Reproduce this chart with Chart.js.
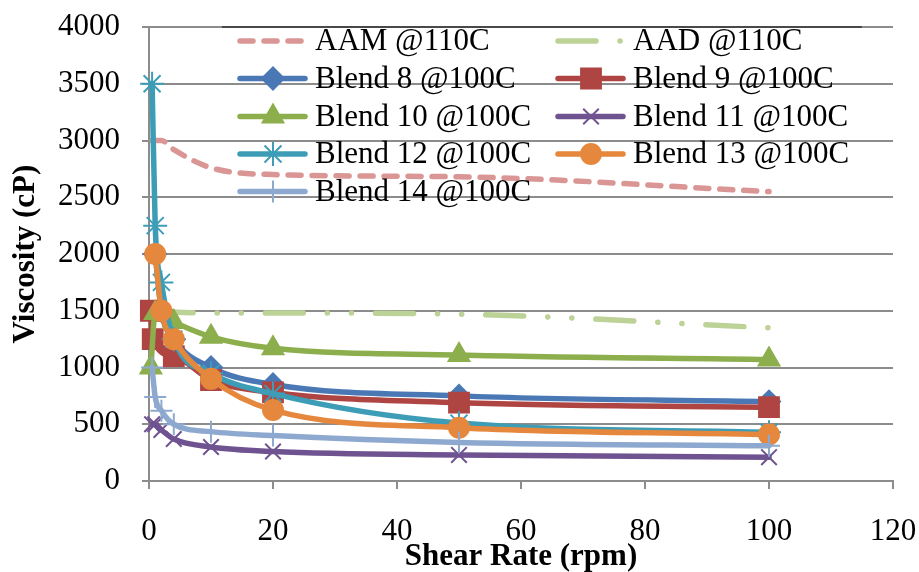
<!DOCTYPE html>
<html><head><meta charset="utf-8">
<script src="https://cdn.jsdelivr.net/npm/chart.js@4/dist/chart.umd.min.js"></script>
<style>html,body{margin:0;padding:0;background:#fff;}#wrap{width:919px;height:572px;}</style>
</head><body><div id="wrap"><canvas id="c" width="919" height="572"></canvas></div>
<script>
// ---- data ----
const seriesNames = ["AAM @110C","AAD @110C","Blend 8 @100C","Blend 9 @100C","Blend 10 @100C","Blend 11 @100C","Blend 12 @100C","Blend 13 @100C","Blend 14 @100C"];
const aamRate = [0.5, 2, 4, 10, 20, 50, 100];
const aamVisc = [3000, 3000, 2920, 2760, 2700, 2680, 2550];
const aadRate = [1, 2, 4, 10, 20, 50, 100];
const aadVisc = [1500, 1500, 1490, 1480, 1480, 1470, 1350];
const b8Rate = [1, 2, 4, 10, 20, 50, 100];
const b8Visc = [2000, 1500, 1250, 1000, 850, 750, 700];
const b9Rate = [0.3, 0.6, 4, 10, 20, 50, 100];
const b9Visc = [1500, 1250, 1100, 890, 780, 690, 650];
const b10Rate = [0.3, 1, 4, 10, 20, 50, 100];
const b10Visc = [1000, 1480, 1400, 1270, 1170, 1110, 1070];
const b11Rate = [0.5, 1, 2, 4, 10, 20, 50, 100];
const b11Visc = [500, 500, 450, 370, 300, 260, 230, 210];
const b12Rate = [0.5, 1, 2, 4, 10, 20, 50, 100];
const b12Visc = [3500, 2250, 1750, 1250, 950, 770, 510, 430];
const b13Rate = [1, 2, 4, 10, 20, 50, 100];
const b13Visc = [2000, 1500, 1250, 900, 625, 470, 410];
const b14Rate = [0.5, 1, 2, 4, 10, 20, 50, 100];
const b14Visc = [1000, 740, 620, 500, 435, 400, 340, 310];
const xTicks = [0, 20, 40, 60, 80, 100, 120];
const yTicks = [0, 500, 1000, 1500, 2000, 2500, 3000, 3500, 4000];

const pairs = (xs, ys) => xs.map((x, i) => ({x: x, y: ys[i]}));
const FONT = "'Liberation Serif','Times New Roman',serif";
const GRID = '#8c8c8c';

const styles = [
  {c:'#D99694', pt:false, dash:[13,11], cap:'round'},
  {c:'#BCD297', pt:false, dash:[38,24,0.1,24,0.1,24], cap:'round'},
  {c:'#4A78B5', pt:'rectRot', r:11},
  {c:'#AE4542', pt:'rect', r:14},
  {c:'#8DAE4D', pt:'triangle', r:12},
  {c:'#6F5391', pt:'crossRot', r:11},
  {c:'#3E9DB6', pt:'star', r:12},
  {c:'#E5883D', pt:'circle', r:10},
  {c:'#8EA9D0', pt:'cross', r:11}
];
const dataSets = [
  pairs(aamRate, aamVisc), pairs(aadRate, aadVisc), pairs(b8Rate, b8Visc),
  pairs(b9Rate, b9Visc), pairs(b10Rate, b10Visc), pairs(b11Rate, b11Visc),
  pairs(b12Rate, b12Visc), pairs(b13Rate, b13Visc), pairs(b14Rate, b14Visc)
];

const datasets = dataSets.map((d, i) => {
  const s = styles[i];
  return {
    label: seriesNames[i],
    data: d,
    borderColor: s.c,
    backgroundColor: s.c,
    borderWidth: 5.5,
    borderDash: s.dash || [],
    borderCapStyle: s.cap || 'round',
    borderJoinStyle: 'round',
    pointStyle: s.pt || 'circle',
    pointRadius: s.pt ? s.r : 0,
    pointHoverRadius: s.pt ? s.r : 0,
    pointBorderWidth: 2,
    pointBorderColor: s.c,
    pointBackgroundColor: s.c,
    cubicInterpolationMode: 'monotone',
    fill: false,
    clip: false,
    order: 20 - i
  };
});

const legendPlugin = {
  id: 'customLegend',
  afterDatasetsDraw(chart) {
    const ctx = chart.ctx;
    ctx.save();
    ctx.strokeStyle = '#333';
    ctx.lineWidth = 1.5;
    ctx.beginPath(); ctx.moveTo(222, 27); ctx.lineTo(862, 27); ctx.stroke();
    const colX = [237, 555];
    const rowY = [41, 78.5, 116.5, 154, 191.5];
    ctx.font = '31px ' + FONT;
    ctx.textBaseline = 'middle';
    ctx.fillStyle = '#000';
    chart.data.datasets.forEach((ds, i) => {
      const x0 = colX[i % 2], y = rowY[Math.floor(i / 2)];
      ctx.save();
      ctx.strokeStyle = ds.borderColor;
      ctx.lineWidth = ds.borderWidth;
      ctx.lineCap = ds.borderCapStyle;
      ctx.setLineDash(ds.borderDash);
      ctx.beginPath(); ctx.moveTo(x0 + 3, y); ctx.lineTo(x0 + 68, y); ctx.stroke();
      ctx.restore();
      if (ds.pointRadius > 0) {
        ctx.save();
        ctx.fillStyle = ds.pointBackgroundColor;
        ctx.strokeStyle = ds.pointBorderColor;
        ctx.lineWidth = ds.pointBorderWidth;
        Chart.helpers.drawPoint(ctx, {pointStyle: ds.pointStyle, radius: ds.pointRadius, borderWidth: 2}, x0 + 36, y);
        ctx.restore();
      }
      ctx.fillStyle = '#000';
      ctx.fillText(ds.label, x0 + 78, y + 1);
    });
    ctx.restore();
  }
};

new Chart(document.getElementById('c'), {
  type: 'line',
  data: {datasets: datasets},
  options: {
    responsive: false,
    animation: false,
    devicePixelRatio: 1,
    layout: {autoPadding: false, padding: {top: 27, right: 26, left: 0, bottom: 0}},
    plugins: {legend: {display: false}, tooltip: {enabled: false}},
    scales: {
      x: {
        type: 'linear', min: 0, max: 120,
        afterBuildTicks: (s) => { s.ticks = xTicks.map(v => ({value: v})); },
        afterFit: (s) => { s.height = 91; s.paddingLeft = 0; s.paddingRight = 0; },
        ticks: {color: '#000', font: {family: FONT, size: 31}, padding: 24, maxRotation: 0, callback: (v) => String(v)},
        grid: {drawOnChartArea: false, drawTicks: true, tickLength: 8, color: GRID, lineWidth: 2},
        border: {color: GRID, width: 2},
        title: {display: true, text: 'Shear Rate (rpm)', color: '#000', font: {family: FONT, size: 31, weight: 'bold', lineHeight: 1}, padding: {top: 0, bottom: 0}}
      },
      y: {
        type: 'linear', min: 0, max: 4000,
        afterBuildTicks: (s) => { s.ticks = yTicks.map(v => ({value: v})); },
        afterFit: (s) => { s.width = 149; s.paddingTop = 0; s.paddingBottom = 0; },
        ticks: {color: '#000', font: {family: FONT, size: 31}, padding: 22, callback: (v) => String(v)},
        grid: {color: GRID, lineWidth: 2, tickLength: 7, drawTicks: true},
        border: {color: GRID, width: 2},
        title: {display: true, text: 'Viscosity (cP)', color: '#000', font: {family: FONT, size: 31, weight: 'bold', lineHeight: 1}, padding: {top: 10, bottom: 0}}
      }
    }
  },
  plugins: [legendPlugin]
});
</script></body></html>
